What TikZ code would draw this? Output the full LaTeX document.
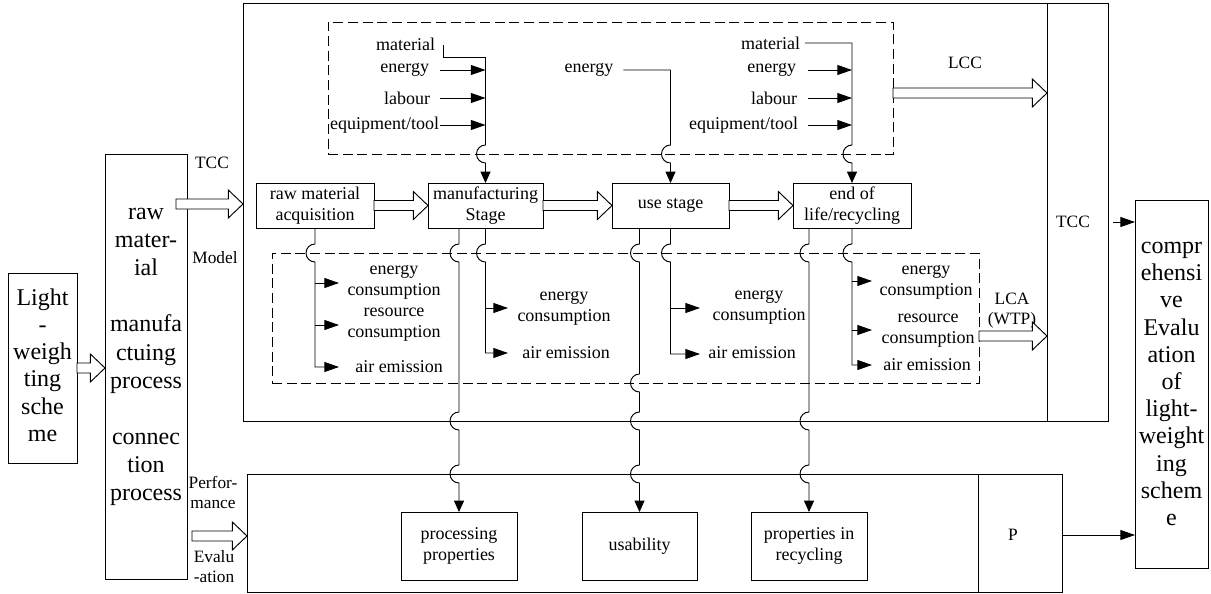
\documentclass[tikz,border=0pt]{standalone}
\usepackage{fontspec}
\setmainfont{Liberation Serif}
\usetikzlibrary{arrows.meta,fit,calc}
\newcommand\fsm{\fontsize{13.5pt}{15.75pt}\selectfont}
\newcommand\fbg{\fontsize{18pt}{20.4pt}\selectfont}
\newcommand\fbt{\fontsize{18pt}{21.1pt}\selectfont}
\newcommand\flb{\fontsize{13pt}{15pt}\selectfont}
\newcommand\jp[2]{-- (#1,#2-9) arc[start angle=270,end angle=90,radius=9]}
\begin{document}
\begin{tikzpicture}[x=0.75pt,y=-0.75pt,line width=0.7pt,
  frame/.style={draw,inner sep=0pt,outer sep=0pt},
  dbox/.style={draw,dash pattern=on 7.5pt off 3.5pt,inner sep=0pt,outer sep=0pt},
  txt/.style={inner sep=0pt,outer sep=0pt,align=center,font=\fsm},
  lab/.style={inner sep=0pt,outer sep=0pt,align=center,font=\flb},
  big/.style={inner sep=0pt,outer sep=0pt,align=center,font=\fbg},
  arrv/.style={-{Triangle[length=8.5pt,width=7.5pt]}},
  arrh/.style={-{Triangle[length=11pt,width=7.5pt]}},
  hol/.style={draw,fill=white,to path={let \p1=(\tikztostart),\p2=(\tikztotarget) in
     (\x1,\y1+3.75pt) -- (\x2-11pt,\y1+3.75pt) -- (\x2-11pt,\y1+10.5pt) -- (\x2,\y1)
     -- (\x2-11pt,\y1-10.5pt) -- (\x2-11pt,\y1-3.75pt) -- (\x1,\y1-3.75pt) -- cycle}}]
\useasboundingbox (0,0) rectangle (1211,593);

% main boxes
\node[frame,fit={(8,273) (77,463)}] (light) {};
\node[big] (lightT) at ($(light.center)+(0,-3)$) {Light\\-\\weigh\\ting\\sche\\me};
\node[frame,fit={(105,154) (187,579)}] (tall) {};
\node[big,font=\fbt] (tallT) at (146,357) {raw\\mater-\\ial\\[21.1pt]manufa\\ctuing\\process\\[21.1pt]connec\\tion\\process};
\node[frame,fit={(243,3) (1108,421)}] (top) {};
\coordinate (dvt) at (1047,3);
\coordinate (dvb) at (1047,421);
\draw (dvt) -- (dvb);
\node[dbox,fit={(328,22) (893,154)}] (tdash) {};
\node[dbox,fit={(272,253) (979,383)}] (bdash) {};
\node[frame,fit={(256,183) (374,228)}] (raw) {};
\node[txt] (rawT) at (raw.center) {raw material\\acquisition};
\node[frame,fit={(428,183) (543,228)}] (mfg) {};
\node[txt] (mfgT) at (mfg.center) {manufacturing\\Stage};
\node[frame,fit={(612,183) (729,228)}] (use) {};
\node[txt] (useT) at (use.center) {use stage};
\node[frame,fit={(793,183) (911,228)}] (eol) {};
\node[txt] (eolT) at (eol.center) {end of\\life/recycling};
\node[frame,fit={(247,474) (1062,592)}] (bot) {};
\coordinate (bdt) at (978,474);
\coordinate (bdb) at (978,592);
\draw (bdt) -- (bdb);
\node[frame,fit={(401,512) (517,580)}] (pp) {};
\node[txt] (ppT) at (pp.center) {processing\\properties};
\node[frame,fit={(582,512) (697,580)}] (usab) {};
\node[txt] (usabT) at (usab.center) {usability};
\node[frame,fit={(751,512) (867,580)}] (pir) {};
\node[txt] (pirT) at (pir.center) {properties in\\recycling};
\node[frame,fit={(1135,200) (1208,568)}] (right) {};
\node[big] (rightT) at (right.center) {compr\\ehensi\\ve\\Evalu\\ation\\of\\light-\\weight\\ing\\schem\\e};

% labels
\node[lab] (tccL) at (212,163) {TCC};
\node[lab] (model) at (215,258) {Model};
\node[lab] (perf) at (213,492) {Perfor-\\mance};
\node[lab] (eval) at (214,567) {Evalu\\-ation};
\node[lab] (lcc) at (965,63) {LCC};
\node[lab] (lca) at (1012,311) {LCA\\(WTP)};
\node[lab] (tccR) at (1073,222) {TCC};
\node[lab] (pl) at (1013,535) {P};

% top inputs
\node[txt,anchor=east] (matL) at (435,44) {material};
\node[txt,anchor=east] (enL) at (429,70) {energy};
\node[txt,anchor=east] (labL) at (430,98) {labour};
\node[txt,anchor=east] (eqL) at (439,125) {equipment/tool};
\node[txt] (enM) at (589,70) {energy};
\node[txt,anchor=east] (matR) at (800,43) {material};
\node[txt,anchor=east] (enR) at (796,70) {energy};
\node[txt,anchor=east] (labR) at (797,98) {labour};
\node[txt,anchor=east] (eqR) at (798,125) {equipment/tool};

% outputs
\node[txt] (ecA) at (394,282) {energy\\consumption};
\node[txt] (rcA) at (394,325) {resource\\consumption};
\node[txt] (aeA) at (399,367) {air emission};
\node[txt] (ecB) at (564,308) {energy\\consumption};
\node[txt] (aeB) at (566,353) {air emission};
\node[txt] (ecC) at (759,307) {energy\\consumption};
\node[txt] (aeC) at (752,353) {air emission};
\node[txt] (ecD) at (926,282) {energy\\consumption};
\node[txt] (rcD) at (928,331) {resource\\consumption};
\node[txt] (aeD) at (927,365) {air emission};

\coordinate (a1) at (339,283);
\coordinate (a2) at (339,325);
\coordinate (a3) at (339,367);
\coordinate (b1) at (508,308);
\coordinate (b2) at (508,353);
\coordinate (c1) at (700,308);
\coordinate (c2) at (700,354);
\coordinate (d1) at (872,281);
\coordinate (d2) at (872,330);
\coordinate (d3) at (872,365);

% top input connectors
\coordinate (sL) at (440,0);
\coordinate (cL) at (485.5,57);
\draw ($(matL.east)+(8,1)$) |- (cL);
\draw[arrv] (cL) \jp{485.5}{154} -- (mfg.north);
\draw[arrh] (enL.east -| sL) -- (enL.east -| cL);
\draw[arrh] (labL.east -| sL) -- (labL.east -| cL);
\draw[arrh] (eqL.east -| sL) -- (eqL.east -| cL);
\draw[arrv] ($(enM.east)+(10,0)$) -| ($(use.north)+(0,-83)$) \jp{670.5}{154} -- (use.north);
\coordinate (sR) at (808,0);
\draw[arrv] ($(matR.east)+(5,0)$) -| ($(eol.north)+(0,-83)$) \jp{852}{154} -- (eol.north);
\draw[arrh] (enR.east -| sR) -- (enR.east -| eol.north);
\draw[arrh] (labR.east -| sR) -- (labR.east -| eol.north);
\draw[arrh] (eqR.east -| sR) -- (eqR.east -| eol.north);

% lower connectors
\draw[arrh] (raw.south) \jp{315}{253} |- (a3);
\draw[arrh] (a1 -| raw.south) -- (a1);
\draw[arrh] (a2 -| raw.south) -- (a2);
\draw[arrv] (mfg.south -| pp.north) \jp{459}{253} \jp{459}{421} \jp{459}{474} -- (pp.north);
\draw[arrh] (mfg.south) \jp{485.5}{253} |- (b2);
\draw[arrh] (b1 -| mfg.south) -- (b1);
\draw[arrv] (use.south -| usab.north) \jp{639.5}{253} \jp{639.5}{383} \jp{639.5}{421} \jp{639.5}{474} -- (usab.north);
\draw[arrh] (use.south) \jp{670.5}{253} |- (c2);
\draw[arrh] (c1 -| use.south) -- (c1);
\draw[arrv] (eol.south -| pir.north) \jp{809}{253} \jp{809}{421} \jp{809}{474} -- (pir.north);
\draw[arrh] (eol.south) \jp{852}{253} |- (d3);
\draw[arrh] (d1 -| eol.south) -- (d1);
\draw[arrh] (d2 -| eol.south) -- (d2);

% hollow arrows
\draw[hol] (light.east) to (tall.west |- light.east);
\coordinate (t1) at (176,204);
\draw[hol] (t1) to (top.west |- t1);
\coordinate (t2) at (192,536);
\draw[hol] (t2) to (bot.west |- t2);
\draw[hol] (raw.east) to (mfg.west);
\draw[hol] (mfg.east) to (use.west);
\draw[hol] (use.east) to (eol.west);
\coordinate (lccy) at (0,93);
\draw[hol] (tdash.east |- lccy) to (dvt |- lccy);
\coordinate (lcay) at (0,336);
\draw[hol] (bdash.east |- lcay) to (dvt |- lcay);

% outputs to final box
\coordinate (tccy) at (1113,222);
\draw[arrh] (tccy) -- (right.west |- tccy);
\draw[arrh] (bot.east |- pl) -- (right.west |- pl);
\end{tikzpicture}
\end{document}
